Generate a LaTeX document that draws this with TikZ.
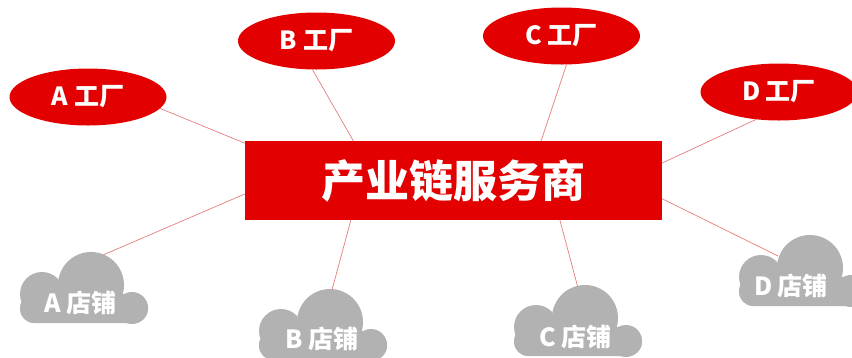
\documentclass[tikz,border=0pt]{standalone}
\usepackage{fontspec}
\newfontfamily\cjk{Noto Sans CJK SC}
\usetikzlibrary{shapes.geometric,backgrounds,calc}
\definecolor{brandred}{RGB}{226,0,0}
\definecolor{cloudgrey}{RGB}{178,178,178}
\definecolor{linkred}{RGB}{228,125,125}
\tikzset{
  factory/.style={ellipse, fill=brandred, minimum width=157pt, minimum height=57pt, inner sep=0pt,
    text=white, font=\cjk\bfseries\fontsize{25}{29}\selectfont},
  service/.style={rectangle, fill=brandred, minimum width=417pt, minimum height=79pt, inner sep=0pt,
    text=white, font=\cjk\bfseries\fontsize{44}{49}\selectfont},
  storetext/.style={inner sep=0pt, text=white, font=\cjk\bfseries\fontsize{25}{29}\selectfont},
  link/.style={draw=linkred, line width=0.7pt},
  cloudpart/.style={fill=cloudgrey},
}
\newcommand\cloudbody[1]{%
  \begin{scope}[shift={#1}]
    \fill[cloudpart] (8.5,-2.5) circle (33pt);
    \fill[cloudpart] (-40.5,6.5) circle (22pt);
    \fill[cloudpart] (49.5,20.5) circle (16pt);
    \fill[cloudpart, rounded corners=14pt] (-62.5,6.5) rectangle (65.5,35.5);
  \end{scope}}
\begin{document}
\begin{tikzpicture}[x=1pt,y=-1pt]
  \useasboundingbox (0,0) rectangle (852,357);
  \clip (0,0) rectangle (852,357);
  % factories
  \node[factory] (fa) at (88,97) {A 工厂};
  \node[factory] (fb) at (316.5,41) {B 工厂};
  \node[factory] (fc) at (561.5,36) {C 工厂};
  \node[factory] (fd) at (779,92) {D 工厂};
  % service provider
  \node[service] (svc) at (453.5,180.5) {产业链服务商};
  % stores
  \cloudbody{(82.5,287.5)}
  \node[storetext] (sa) at (80.5,303) {A 店铺};
  \cloudbody{(321.5,324.5)}
  \node[storetext] (sb) at (322,339) {B 店铺};
  \cloudbody{(576.5,320.5)}
  \node[storetext] (sc) at (575.5,337) {C 店铺};
  \cloudbody{(801.5,270.5)}
  \node[storetext] (sd) at (791,286) {D 店铺};
  % connector end points on the clouds
  \coordinate (ca) at (103,255);
  \coordinate (cb) at (332,290);
  \coordinate (cc) at (578,288);
  \coordinate (cd) at (778,256);
  \begin{pgfonlayer}{background}
    \draw[link] (fa.-9) -- ($(svc.north west)!0.03!(svc.south west)$);
    \draw[link] (fb.-98) -- ($(svc.north west)!0.26!(svc.north east)$);
    \draw[link] (fc.-80) -- ($(svc.north west)!0.71!(svc.north east)$);
    \draw[link] (fd.230) -- ($(svc.north east)!0.28!(svc.south east)$);
    \draw[link] ($(svc.north west)!0.67!(svc.south west)$) -- (ca);
    \draw[link] ($(svc.south west)!0.254!(svc.south east)$) -- (cb);
    \draw[link] ($(svc.south west)!0.755!(svc.south east)$) -- (cc);
    \draw[link] ($(svc.north east)!0.73!(svc.south east)$) -- (cd);
  \end{pgfonlayer}
\end{tikzpicture}
\end{document}
